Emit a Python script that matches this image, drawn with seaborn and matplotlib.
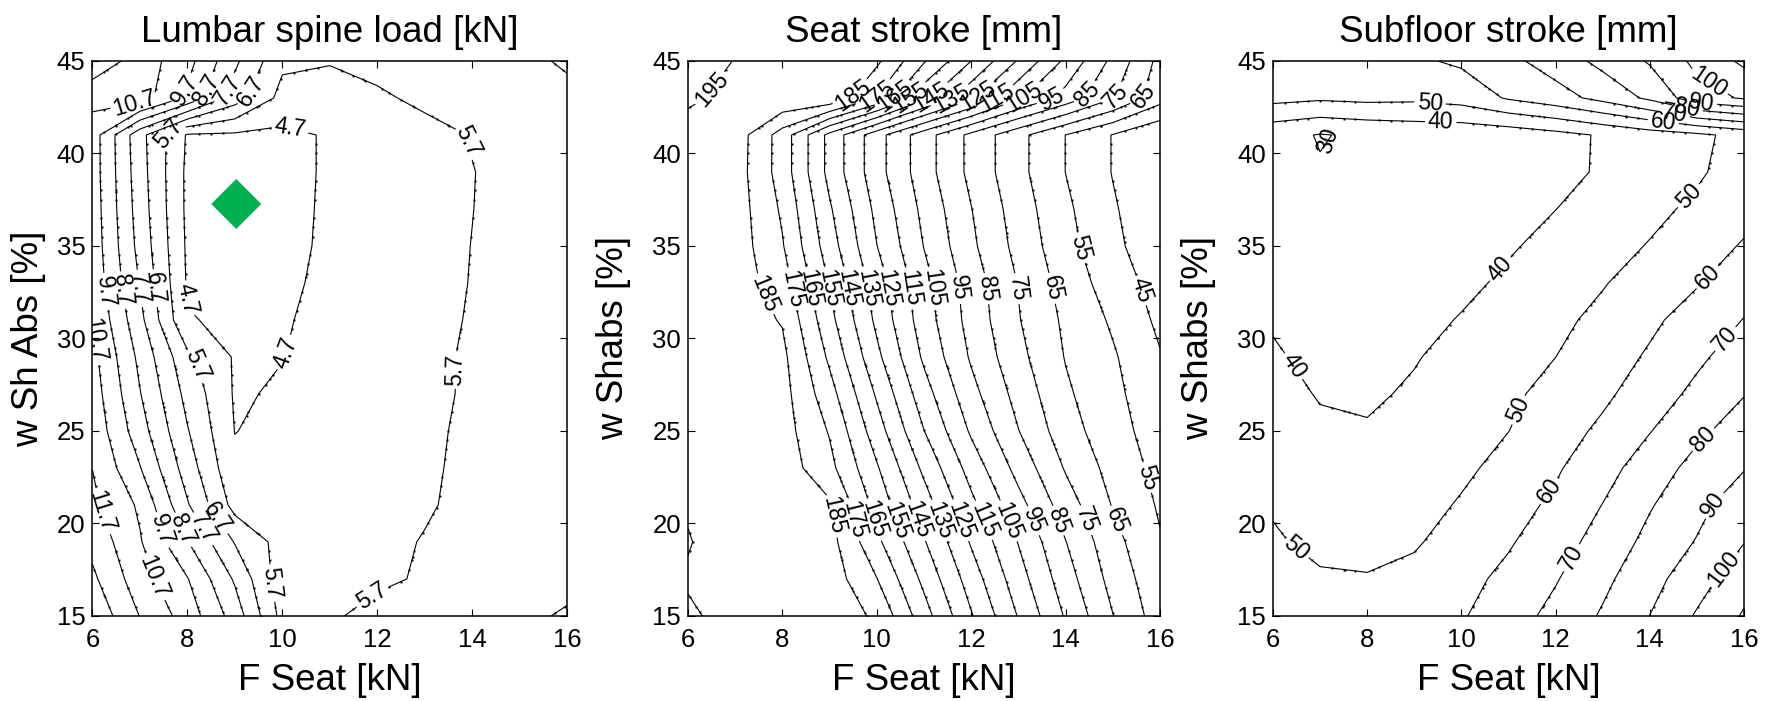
import numpy as np
import matplotlib
matplotlib.use("Agg")
import matplotlib.pyplot as plt
import seaborn as sns
from matplotlib.markers import MarkerStyle

sns.set_style("ticks")
plt.rcParams['font.family'] = ['Liberation Sans', 'DejaVu Sans']
plt.rcParams['text.color'] = 'k'
plt.rcParams['axes.labelcolor'] = 'k'
plt.rcParams['xtick.color'] = 'k'
plt.rcParams['ytick.color'] = 'k'

# grid: F Seat [kN] (columns) x w Shabs [%] (rows, top to bottom)
f_seat = [6, 7, 8, 9, 10, 11, 12, 13, 14, 15, 16]
w_shabs = [45, 43, 41, 39, 37, 35, 33, 31, 29, 27, 25, 23, 21, 19, 17, 15]

lumbar_load = [
    [12.4, 11.25, 10.05, 7.9, 5.9, 5.75, 6.0, 6.2, 6.4, 6.6, 6.75],
    [11.0, 11.2, 9.5, 7.2, 5.37, 5.35, 5.55, 5.9, 6.1, 6.3, 6.6],
    [10.2, 7.03, 4.6, 4.55, 4.5, 4.78, 5.1, 5.4, 5.74, 6.0, 6.3],
    [10.2, 7.12, 4.5, 4.4, 4.45, 4.8, 5.1, 5.45, 5.68, 5.95, 6.2],
    [10.25, 7.22, 4.5, 4.4, 4.45, 4.82, 5.1, 5.42, 5.69, 5.95, 6.2],
    [10.3, 7.37, 4.55, 4.4, 4.45, 4.85, 5.15, 5.45, 5.71, 5.95, 6.2],
    [10.4, 7.63, 4.6, 4.45, 4.5, 4.92, 5.2, 5.5, 5.72, 5.95, 6.2],
    [10.68, 7.99, 4.75, 4.55, 4.6, 5.0, 5.25, 5.5, 5.75, 5.95, 6.2],
    [11.0, 8.45, 5.93, 4.6, 4.68, 5.0, 5.25, 5.55, 5.78, 5.98, 6.2],
    [11.2, 8.75, 6.39, 4.6, 4.8, 5.05, 5.3, 5.52, 5.8, 6.0, 6.25],
    [11.4, 9.14, 6.77, 4.68, 4.95, 5.1, 5.3, 5.55, 5.85, 6.05, 6.3],
    [11.69, 9.75, 7.22, 4.9, 5.0, 5.15, 5.3, 5.55, 5.92, 6.15, 6.35],
    [11.9, 10.54, 7.8, 5.35, 5.1, 5.2, 5.35, 5.6, 5.95, 6.2, 6.4],
    [12.4, 10.79, 8.75, 6.64, 5.3, 5.3, 5.45, 5.75, 6.1, 6.35, 6.55],
    [12.9, 11.13, 9.75, 7.57, 5.13, 5.2, 5.45, 5.85, 6.2, 6.45, 6.65],
    [13.48, 11.67, 10.26, 8.27, 5.37, 5.5, 6.15, 6.35, 6.5, 6.66, 6.72],
]
lumbar_levels = [4.7, 5.7, 6.7, 7.7, 8.7, 9.7, 10.7, 11.7, 12.7]
lumbar_label_pos = [(6.9, 42.7), (7.95, 43.4), (8.45, 43.4), (8.85, 43.4), (9.3, 43.4),
                    (7.62, 40.9), (10.15, 41.2), (14.0, 40.7),
                    (6.19, 32.5), (6.6, 32.6), (6.98, 32.7), (7.26, 32.7), (7.86, 32.1),
                    (6.07, 29.9), (8.1, 28.5), (10.1, 29.2), (13.6, 28.3),
                    (6.24, 20.7), (7.42, 19.6), (7.86, 19.6), (8.26, 19.6), (8.57, 20.2),
                    (7.3, 17.1), (9.83, 16.8), (11.8, 16.4)]

seat_stroke = [
    [198, 194.8, 193, 190, 187, 166, 145, 124, 103, 82.5, 62],
    [195.6, 194, 194, 194, 174.5, 148, 127.3, 106.6, 91.3, 75.8, 59],
    [193.5, 190.5, 170.6, 142, 118.9, 99.4, 82.4, 67.9, 54.9, 44.6, 36],
    [192, 190, 170.6, 142, 118.9, 99.4, 82.4, 67.9, 54.9, 44.6, 36],
    [192, 190.3, 173.5, 146.3, 122.4, 102.3, 85.3, 70.1, 56.9, 46.1, 37.3],
    [192, 190.5, 175.8, 149.7, 125.2, 104.7, 87.0, 71.8, 58.4, 47.4, 38.3],
    [192, 190.5, 179.7, 154.4, 130, 108.5, 90.2, 74.6, 60.9, 50.2, 40.9],
    [191.5, 190, 184.3, 158.1, 132.8, 109.8, 91.3, 75.6, 63.1, 53.6, 42.9],
    [191, 190, 187.6, 163.1, 137.5, 113.3, 93.75, 77.9, 64.5, 56.2, 45.7],
    [191, 190, 188.7, 168.9, 143.75, 119.2, 98.3, 81.4, 66.6, 57.5, 48.2],
    [191, 190, 189.3, 174.2, 149.6, 125.2, 103.6, 85.3, 69.3, 58.9, 50.2],
    [191, 190.5, 190.5, 177.9, 156.1, 132.8, 110.9, 91.5, 74.1, 61.4, 52],
    [194.5, 191.5, 190.5, 186.5, 161.4, 139.8, 117.6, 98.5, 79.9, 64.4, 53.8],
    [195.3, 192.3, 190.5, 188.7, 167.3, 145.9, 124.0, 104.6, 85.3, 68.3, 55.8],
    [194.5, 192, 191, 190.5, 175.3, 152.5, 130.2, 109.3, 89.5, 71.5, 58],
    [195.75, 193.3, 191.5, 190.5, 183.5, 159.2, 135.9, 114.4, 94.0, 75.3, 60],
]
seat_levels = [45, 55, 65, 75, 85, 95, 105, 115, 125, 135, 145, 155, 165, 175, 185, 195]
seat_label_pos = [(6.47, 43.5),
                  (9.50, 43.1), (9.98, 43.1), (10.38, 43.1), (10.70, 43.1), (11.13, 43.1),
                  (11.57, 43.1), (12.13, 43.1), (12.53, 43.1), (13.09, 43.1), (13.69, 43.1),
                  (14.52, 43.1), (15.04, 43.1), (15.64, 43.1),
                  (7.87, 32.7), (8.26, 32.7), (8.62, 32.7), (8.98, 32.7), (9.34, 32.7),
                  (9.78, 32.7), (10.22, 32.7), (10.66, 32.7), (11.18, 32.7), (11.69, 32.7),
                  (12.33, 32.7), (12.97, 32.7), (13.69, 32.7), (14.33, 34.9), (15.60, 32.6),
                  (9.02, 20.4), (9.50, 20.2), (9.94, 20.2), (10.46, 20.2), (10.90, 20.2),
                  (11.38, 20.2), (11.81, 20.2), (12.29, 20.2), (12.85, 20.2), (13.37, 20.2),
                  (13.89, 20.2), (14.45, 20.2), (15.12, 20.2), (15.6, 22.4)]

subfloor_stroke = [
    [55, 56, 57, 58.5, 61.5, 67.5, 74.5, 82.8, 91, 102.5, 112],
    [53, 51.5, 52.5, 52, 54, 61, 66, 73, 82, 96, 101],
    [33, 29.5, 31.5, 33, 33, 34, 37, 41, 45, 48, 53],
    [33, 30.6, 32, 32.5, 33, 34, 37.5, 41.0, 44.9, 48.8, 54],
    [34.5, 33, 32.5, 33, 33.5, 35, 39.9, 43.8, 47.8, 51.7, 57],
    [36, 34, 33.5, 34, 35, 39.0, 42.8, 46.7, 50.5, 55.7, 60.8],
    [37.5, 35, 34.5, 35, 37.8, 41.7, 45.5, 49.4, 54.3, 59.3, 65.3],
    [39.1, 36.5, 36, 37, 40.6, 44.3, 47.9, 52.3, 58.1, 64.2, 70.3],
    [41.1, 37.5, 37, 39.4, 43.0, 46.5, 49.96, 55.4, 61.2, 68.1, 75],
    [43.1, 39.4, 38.6, 41.2, 44.5, 48.3, 52.9, 58.1, 64.9, 72.4, 79.6],
    [45.1, 41.5, 40.8, 43, 46.5, 49.9, 55.7, 61.9, 69.6, 77.9, 84.6],
    [47.1, 43.5, 43, 45, 47.9, 53.3, 58.8, 66.2, 75.1, 83.1, 89.4],
    [48.8, 45, 44, 46, 51, 56.1, 61.9, 70.2, 79.2, 87, 96],
    [51.5, 47, 46.3, 49, 54, 59, 65.7, 73.8, 82.7, 90.6, 99.7],
    [54, 51.5, 50.8, 52.5, 57, 62.4, 69.3, 77.7, 86.6, 95.8, 106],
    [56, 54, 54, 56, 59.1, 65.7, 72.8, 81.1, 90.1, 101, 111],
]
subfloor_levels = [40, 50, 60, 70, 80, 90, 100, 110]
subfloor_small_level = [30]
subfloor_label_pos = [(9.33, 42.6), (9.56, 41.5),
                      (14.28, 41.6), (14.52, 42.1), (14.8, 42.5), (15.1, 42.8), (15.2, 43.6),
                      (10.85, 33.7), (6.38, 28.4), (14.83, 37.7), (11.24, 26.1), (6.5, 18.7),
                      (15.23, 33.3), (11.96, 21.6), (15.55, 30.1), (12.44, 18.0),
                      (15.15, 24.5), (15.39, 20.9), (15.6, 17.5)]
subfloor_small_pos = [(7.22, 40.6)]

# chosen design point in the lumbar panel
opt_force = [9.03]
opt_shabs = [37.27]

fig = plt.figure(figsize=(17.68, 7.01), dpi=100)
ax_pos = [[0.0523, 0.1213, 0.2684, 0.7917],
          [0.3891, 0.1213, 0.2670, 0.7917],
          [0.7200, 0.1213, 0.2664, 0.7917]]

lab_size = 16.5
text_size = 26.5


def add_dots(ax, cs):
    # small dots where each drawn line crosses a fine evaluation mesh
    gx = np.arange(6, 16.001, 0.25)
    gy = np.arange(15, 45.001, 0.5)
    px, py = [], []
    for p in cs.get_paths():
        for seg in p.to_polygons(closed_only=False):
            for (x0, y0), (x1, y1) in zip(seg[:-1], seg[1:]):
                for g in gx:
                    if (x0 - g) * (x1 - g) < 0:
                        t = (g - x0) / (x1 - x0)
                        px.append(g)
                        py.append(y0 + t * (y1 - y0))
                for g in gy:
                    if (y0 - g) * (y1 - g) < 0:
                        t = (g - y0) / (y1 - y0)
                        px.append(x0 + t * (x1 - x0))
                        py.append(g)
    ax.plot(px, py, ls='none', marker='s', ms=1.4, mew=0, color='k')


def draw_panel(ax, z, levels, fmt, label_pos, title, ylabel, ypad):
    X, Y = np.meshgrid(f_seat, w_shabs[::-1])
    Z = np.array(z, dtype=float)[::-1]
    cs = ax.contour(X, Y, Z, levels=levels, colors='k', linewidths=0.8)
    ax.clabel(cs, inline=True, fontsize=lab_size, fmt=fmt, manual=label_pos, inline_spacing=3)
    add_dots(ax, cs)
    ax.set_xlim(6, 16)
    ax.set_ylim(15, 45)
    ax.set_xticks([6, 8, 10, 12, 14, 16])
    ax.set_yticks([15, 20, 25, 30, 35, 40, 45])
    ax.tick_params(direction='in', length=5, width=0.8, top=True, right=True, labelsize=18.5)
    ax.tick_params(axis='x', pad=8.5)
    ax.tick_params(axis='y', pad=5)
    for s in ax.spines.values():
        s.set_linewidth(1.1)
        s.set_color('k')
    ax.set_title(title, fontsize=text_size, pad=14)
    ax.set_xlabel('F Seat [kN]', fontsize=text_size, labelpad=8)
    ax.set_ylabel(ylabel, fontsize=text_size, labelpad=ypad)
    return X, Y, Z


ax1 = fig.add_axes(ax_pos[0])
draw_panel(ax1, lumbar_load, lumbar_levels, '%.1f', lumbar_label_pos,
           'Lumbar spine load [kN]', 'w Sh Abs [%]', 8)
diamond = MarkerStyle([(0, 1), (1, 0), (0, -1), (-1, 0), (0, 1)])
sns.scatterplot(x=opt_force, y=opt_shabs, marker=diamond, s=36 ** 2, color='#00B050',
                edgecolor='none', linewidth=0, ax=ax1, zorder=5, legend=False)
ax1.set_xlim(6, 16)
ax1.set_ylim(15, 45)

ax2 = fig.add_axes(ax_pos[1])
draw_panel(ax2, seat_stroke, seat_levels, '%d', seat_label_pos,
           'Seat stroke [mm]', 'w Shabs [%]', 15)

ax3 = fig.add_axes(ax_pos[2])
X3, Y3, Z3 = draw_panel(ax3, subfloor_stroke, subfloor_levels, '%d', subfloor_label_pos,
                        'Subfloor stroke [mm]', 'w Shabs [%]', 15)
cs30 = ax3.contour(X3, Y3, Z3, levels=subfloor_small_level, colors='k', linewidths=0.8)
ax3.clabel(cs30, inline=False, fontsize=lab_size, fmt='%d', manual=subfloor_small_pos)
add_dots(ax3, cs30)

fig.savefig('out.png', dpi=100)
